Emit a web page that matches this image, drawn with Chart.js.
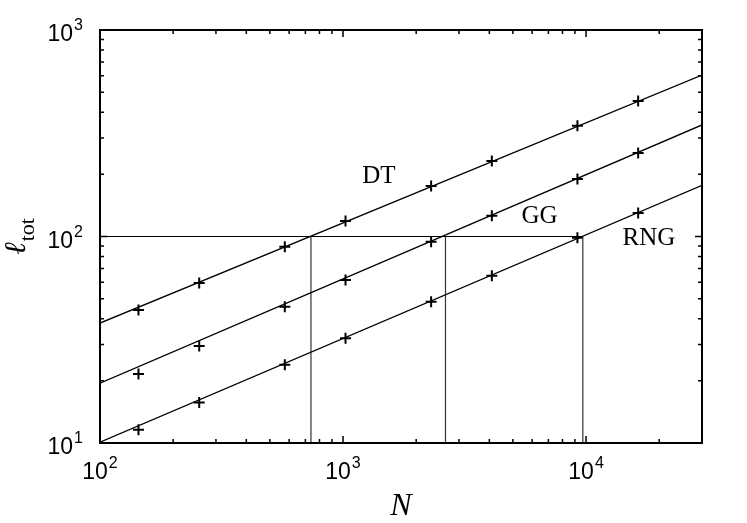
<!DOCTYPE html>
<html>
<head>
<meta charset="utf-8">
<script src="https://cdn.jsdelivr.net/npm/chart.js@4/dist/chart.umd.min.js"></script>
<style>
  html, body { margin: 0; padding: 0; background: #fff; }
  canvas { display: block; }
</style>
</head>
<body>
<canvas id="chart" width="747" height="523"></canvas>
<script>
// measured system sizes N
const sizes = [144, 256, 576, 1024, 2304, 4096, 9216, 16384];

// total length, per graph
const dtValues  = [44.1, 59.5, 89.2, 118.9, 175.6, 232, 344, 453];
const ggValues  = [21.6, 29.5, 45.7, 61.5, 94.4, 126, 190, 254];
const rngValues = [11.6, 15.7, 23.9, 32.2, 48.3, 64.6, 98.7, 130];

// fitted power laws, evaluated at both ends of the x range
const fitN   = [100, 30000];
const dtFit  = [38.1, 605];
const ggFit  = [19.5, 347];
const rngFit = [10.1, 177];

// where each fit reaches l_tot = 100
const crossLevel = 100;
const crossN = [738, 2640, 9700];

// curve names and where they sit (data coords)
const curveNames = ["DT", "GG", "RNG"];
const nameN = [1200, 5420, 14130];
const nameY = [181.5, 116, 91];

// axes
const xMin = 100, xMax = 30000;
const yMin = 10, yMax = 1000;
const xMajor = [100, 1000, 10000];
const yMajor = [10, 100, 1000];

/* =========================
   HELPERS
========================= */
const pts = (xs, ys) => xs.map((x, i) => ({ x: x, y: ys[i] }));

function markerSet(values) {
    return {
        data: pts(sizes, values),
        showLine: false,
        pointStyle: "cross",
        pointRadius: 5.5,
        pointBorderWidth: 2,
        pointBorderColor: "#000",
        pointBackgroundColor: "#000"
    };
}

function lineSet(data, color, width) {
    return {
        data: data,
        showLine: true,
        borderColor: color,
        borderWidth: width,
        pointRadius: 0,
        fill: false
    };
}

function minorTicks(lo, hi) {
    const out = [];
    for (let d = Math.pow(10, Math.floor(Math.log10(lo))); d < hi; d *= 10) {
        for (let k = 2; k <= 9; k++) {
            const v = k * d;
            if (v > lo && v < hi) out.push(v);
        }
    }
    return out;
}

const BASE_FONT = "23px 'Liberation Sans', Arial, sans-serif";
const SUP_FONT = "16px 'Liberation Sans', Arial, sans-serif";

function powerLabel(ctx, exp, x, y, align) {
    const base = "10", sup = String(exp);
    ctx.font = BASE_FONT;
    const wb = ctx.measureText(base).width;
    ctx.font = SUP_FONT;
    const ws = ctx.measureText(sup).width;
    const total = wb + 1 + ws;
    let left = x - total / 2;
    if (align === "right") left = x - total;
    ctx.textAlign = "left";
    ctx.textBaseline = "alphabetic";
    ctx.font = BASE_FONT;
    ctx.fillText(base, left, y);
    ctx.font = SUP_FONT;
    ctx.fillText(sup, left + wb + 1, y - 11);
}

/* =========================
   FRAME / TICKS / TEXT
========================= */
const decorPlugin = {
    id: "decor",
    afterDraw(chart) {
        const ctx = chart.ctx;
        const a = chart.chartArea;
        const xs = chart.scales.x, ys = chart.scales.y;
        ctx.save();
        ctx.strokeStyle = "#000";
        ctx.fillStyle = "#000";

        // inward ticks on all four sides
        ctx.lineWidth = 1.5;
        ctx.beginPath();
        const tickX = (v, len) => {
            const p = xs.getPixelForValue(v);
            ctx.moveTo(p, a.bottom); ctx.lineTo(p, a.bottom - len);
            ctx.moveTo(p, a.top); ctx.lineTo(p, a.top + len);
        };
        const tickY = (v, len) => {
            const p = ys.getPixelForValue(v);
            ctx.moveTo(a.left, p); ctx.lineTo(a.left + len, p);
            ctx.moveTo(a.right, p); ctx.lineTo(a.right - len, p);
        };
        xMajor.forEach(v => tickX(v, 7));
        minorTicks(xMin, xMax).forEach(v => tickX(v, 4));
        yMajor.forEach(v => tickY(v, 7));
        minorTicks(yMin, yMax).forEach(v => tickY(v, 4));
        ctx.stroke();

        // frame
        ctx.lineWidth = 2;
        ctx.strokeRect(a.left, a.top, a.right - a.left, a.bottom - a.top);

        // tick labels
        xMajor.forEach(v => {
            powerLabel(ctx, Math.round(Math.log10(v)), xs.getPixelForValue(v), a.bottom + 36, "center");
        });
        yMajor.forEach(v => {
            powerLabel(ctx, Math.round(Math.log10(v)), 83, ys.getPixelForValue(v) + 11, "right");
        });

        // curve names
        ctx.font = "25px 'Liberation Serif', 'Times New Roman', serif";
        ctx.textAlign = "left";
        ctx.textBaseline = "alphabetic";
        curveNames.forEach((name, i) => {
            ctx.fillText(name, xs.getPixelForValue(nameN[i]), ys.getPixelForValue(nameY[i]));
        });

        // x title
        ctx.font = "italic 32px 'Liberation Serif', 'Times New Roman', serif";
        ctx.textAlign = "center";
        ctx.fillText("N", (a.left + a.right) / 2, 515);

        // y title, rotated
        ctx.translate(25, (a.top + a.bottom) / 2);
        ctx.rotate(-Math.PI / 2);
        ctx.font = "italic 30px 'DejaVu Serif', 'Liberation Serif', serif";
        const wl = ctx.measureText("\u2113").width;
        ctx.font = "22px 'Liberation Serif', 'Times New Roman', serif";
        const wt = ctx.measureText("tot").width;
        const start = -(wl + 1 + wt) / 2;
        ctx.textAlign = "left";
        ctx.font = "italic 30px 'DejaVu Serif', 'Liberation Serif', serif";
        ctx.fillText("\u2113", start, 0);
        ctx.font = "22px 'Liberation Serif', 'Times New Roman', serif";
        ctx.fillText("tot", start + wl + 1, 9);

        ctx.restore();
    }
};

/* =========================
   CHART
========================= */
const datasets = [
    lineSet(pts(fitN, dtFit), "#000", 1.3),
    lineSet(pts(fitN, ggFit), "#000", 1.3),
    lineSet(pts(fitN, rngFit), "#000", 1.3),
    lineSet([{ x: xMin, y: crossLevel }, { x: crossN[crossN.length - 1], y: crossLevel }], "#000", 1.2)
];
crossN.forEach(n => {
    datasets.push(lineSet([{ x: n, y: crossLevel }, { x: n, y: yMin }], "#333", 1.2));
});
datasets.push(markerSet(dtValues), markerSet(ggValues), markerSet(rngValues));

new Chart(document.getElementById("chart").getContext("2d"), {
    type: "scatter",
    data: { datasets: datasets },
    options: {
        responsive: false,
        animation: false,
        layout: { padding: { left: 100, top: 30, right: 45, bottom: 80 } },
        plugins: {
            legend: { display: false },
            tooltip: { enabled: false }
        },
        scales: {
            x: { type: "logarithmic", min: xMin, max: xMax, display: false },
            y: { type: "logarithmic", min: yMin, max: yMax, display: false }
        }
    },
    plugins: [decorPlugin]
});
</script>
</body>
</html>
